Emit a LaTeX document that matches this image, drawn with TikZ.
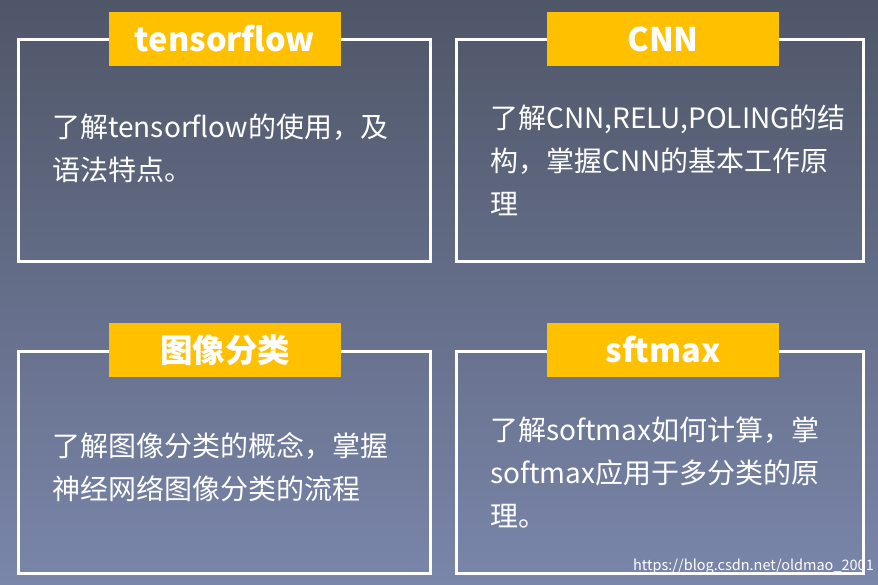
\documentclass[tikz,border=0pt]{standalone}
\usepackage{fontspec}
\setmainfont{Noto Sans CJK SC}
\usetikzlibrary{positioning}
\definecolor{bgtop}{HTML}{4F5668}
\definecolor{bgbot}{HTML}{7A86AA}
\definecolor{tagyellow}{HTML}{FFC000}
\tikzset{
  panel/.style={draw=white,line width=2.5pt,minimum width=412pt,minimum height=222pt,anchor=north west,inner sep=0pt},
  tag/.style={fill=tagyellow,text=white,minimum width=232pt,minimum height=54pt,font=\fontsize{32.5}{34}\selectfont\bfseries},
  body/.style={text=white,anchor=north west,align=left,inner sep=0pt,
    font=\fontsize{28}{43}\selectfont}
}
\begin{document}
\begin{tikzpicture}[x=1pt,y=-1pt]
  \shade[top color=bgtop,bottom color=bgbot] (0,0) rectangle (878,584);
  \useasboundingbox (0,0) rectangle (878,584);

  \node[panel] (tf) at (17,38) {};
  \node[tag] (tftag) at (225,39) {tensorflow};
  \node[body] (tftext) at (52,114) {了解tensorflow的使用，及\\语法特点。};

  \node[panel,minimum width=407pt] (cnn) at (455,38) {};
  \node[tag] (cnntag) at (663,39) {CNN};
  \node[body] (cnntext) at (490,105) {了解CNN,RELU,POLING的结\\构，掌握CNN的基本工作原\\理};

  \node[panel] (img) at (17,350) {};
  \node[tag] (imgtag) at (225,350) {图像分类};
  \node[body] (imgtext) at (52,432) {了解图像分类的概念，掌握\\神经网络图像分类的流程};

  \node[panel,minimum width=407pt] (smax) at (455,350) {};
  \node[tag] (smaxtag) at (663,350) {sftmax};
  \node[body] (smaxtext) at (490,417) {了解softmax如何计算，掌\\softmax应用于多分类的原\\理。};

  \node[text=white,anchor=south east,inner sep=2pt,font=\fontsize{14.5}{15}\selectfont] (mark) at (876,576) {https://blog.csdn.net/oldmao\_2001};
\end{tikzpicture}
\end{document}
